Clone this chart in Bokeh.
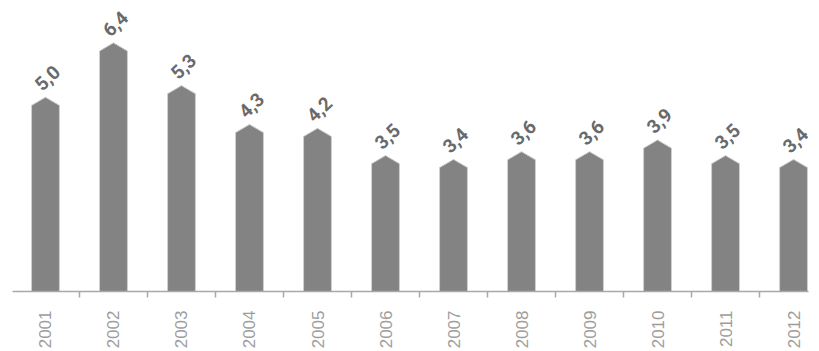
import math
from bokeh.plotting import figure
from bokeh.models import Range1d, FixedTicker, ColumnDataSource
from bokeh.core.properties import value
from bokeh.embed import file_html
from bokeh.resources import INLINE

years = ["2001", "2002", "2003", "2004", "2005", "2006",
         "2007", "2008", "2009", "2010", "2011", "2012"]
values = [5.0, 6.4, 5.3, 4.3, 4.2, 3.5, 3.4, 3.6, 3.6, 3.9, 3.5, 3.4]
labels = ["5,0", "6,4", "5,3", "4,3", "4,2", "3,5",
          "3,4", "3,6", "3,6", "3,9", "3,5", "3,4"]

BAR_W = 0.41    # bar width in category units
ROOF = 0.21     # height of the pointed cap in value units

xs_pos = list(range(len(years)))

# pentagon-shaped bars: flat sides, pointed top reaching the value
bar_xs, bar_ys = [], []
for x, v in zip(xs_pos, values):
    h = BAR_W / 2
    bar_xs.append([x - h, x - h, x, x + h, x + h])
    bar_ys.append([0, v - ROOF, v, v - ROOF, 0])

p = figure(width=819, height=351, output_backend="svg", toolbar_location=None,
           x_range=Range1d(-0.485, 11.22), y_range=Range1d(0, 7.49),
           y_axis_location=None, min_border_left=12, min_border_right=11,
           min_border_top=0, min_border_bottom=59)
p.outline_line_color = None
p.background_fill_color = "white"
p.border_fill_color = "white"
p.xgrid.visible = False
p.ygrid.visible = False

p.patches(bar_xs, bar_ys, fill_color="#838383", line_color="#cfcfcf", line_width=1)

src = ColumnDataSource(dict(x=xs_pos, y=values, t=labels))
p.text(x="x", y="y", text="t", source=src, angle=44, angle_units="deg",
       x_offset=2, y_offset=-19, text_align="center", text_baseline="middle",
       text_font=value("Roboto"), text_font_style="bold",
       text_font_size="19px", text_color="#6a6a6a")

ax = p.xaxis[0]
ax.ticker = FixedTicker(ticks=xs_pos, minor_ticks=[i + 0.5 for i in range(len(years) - 1)])
ax.major_label_overrides = {i: y for i, y in enumerate(years)}
ax.major_label_orientation = math.pi / 2
ax.major_label_standoff = 13
ax.major_label_text_font = "Liberation Sans"
ax.major_label_text_font_size = "17px"
ax.major_label_text_color = "#9d9d9d"
ax.major_tick_out = 0
ax.major_tick_in = 0
ax.minor_tick_in = 0
ax.minor_tick_out = 6
ax.minor_tick_line_color = "#a8a8a8"
ax.minor_tick_line_width = 1.5
ax.axis_line_color = "#a8a8a8"
ax.axis_line_width = 1.5

open("out.html", "w").write(file_html(p, INLINE))
